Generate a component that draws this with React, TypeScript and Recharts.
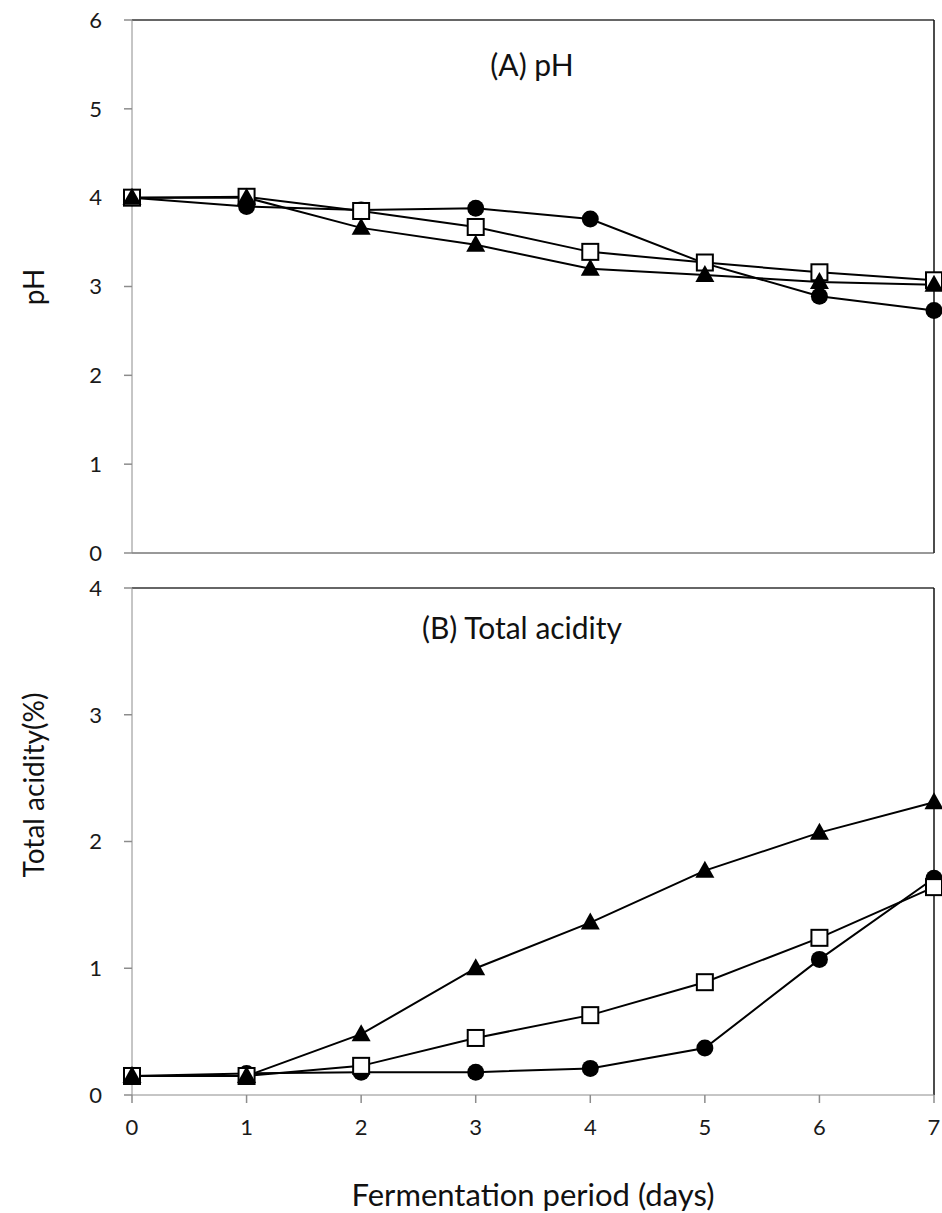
import React from 'react';
import { LineChart, Line, XAxis, YAxis, ReferenceLine } from 'recharts';

const DAYS = [0, 1, 2, 3, 4, 5, 6, 7];

// (A) pH
const PH_CIRCLE = [4.0, 3.9, 3.86, 3.88, 3.76, 3.26, 2.89, 2.73];
const PH_SQUARE = [4.0, 4.01, 3.85, 3.67, 3.39, 3.27, 3.16, 3.07];
const PH_TRIANGLE = [4.0, 4.0, 3.66, 3.47, 3.2, 3.13, 3.05, 3.02];

// (B) Total acidity (%)
const TA_CIRCLE = [0.15, 0.17, 0.18, 0.18, 0.21, 0.37, 1.07, 1.71];
const TA_SQUARE = [0.15, 0.15, 0.23, 0.45, 0.63, 0.89, 1.24, 1.64];
const TA_TRIANGLE = [0.15, 0.15, 0.48, 1.0, 1.36, 1.77, 2.07, 2.31];

const PH_TICKS = [0, 1, 2, 3, 4, 5, 6];
const TA_TICKS = [0, 1, 2, 3, 4];

const FONT = 'Lato, "Open Sans", sans-serif';
const AXIS_GRAY = '#8c8c8c';

const phData = DAYS.map((d, i) => ({
  day: d,
  circle: PH_CIRCLE[i],
  square: PH_SQUARE[i],
  triangle: PH_TRIANGLE[i],
}));

const taData = DAYS.map((d, i) => ({
  day: d,
  circle: TA_CIRCLE[i],
  square: TA_SQUARE[i],
  triangle: TA_TRIANGLE[i],
}));

const CircleDot = (p: any) => {
  if (p.cx == null || p.cy == null) return null;
  return <circle key={p.index} cx={p.cx} cy={p.cy} r={8.5} fill="#000" />;
};

const SquareDot = (p: any) => {
  if (p.cx == null || p.cy == null) return null;
  return (
    <rect
      key={p.index}
      x={p.cx - 8}
      y={p.cy - 8}
      width={16}
      height={16}
      fill="#fff"
      stroke="#000"
      strokeWidth={2}
    />
  );
};

const TriangleDot = (p: any) => {
  if (p.cx == null || p.cy == null) return null;
  const { cx, cy } = p;
  return (
    <path
      key={p.index}
      d={`M${cx},${cy - 10} L${cx + 9.5},${cy + 7} L${cx - 9.5},${cy + 7} Z`}
      fill="#000"
    />
  );
};

function renderLines() {
  return [
    <Line
      key="circle"
      dataKey="circle"
      stroke="#000"
      strokeWidth={2}
      dot={CircleDot}
      activeDot={false}
      isAnimationActive={false}
    />,
    <Line
      key="square"
      dataKey="square"
      stroke="#000"
      strokeWidth={2}
      dot={SquareDot}
      activeDot={false}
      isAnimationActive={false}
    />,
    <Line
      key="triangle"
      dataKey="triangle"
      stroke="#000"
      strokeWidth={2}
      dot={TriangleDot}
      activeDot={false}
      isAnimationActive={false}
    />,
  ];
}

const tickText = { fill: '#1a1a1a', fontSize: 22, fontFamily: FONT };

const titleStyle: React.CSSProperties = {
  position: 'absolute',
  transform: 'translate(-50%, -50%)',
  color: '#111',
  whiteSpace: 'nowrap',
  lineHeight: 1,
};

export default function App() {
  return (
    <div
      style={{
        position: 'absolute',
        left: 0,
        top: 0,
        width: 942,
        height: 1213,
        background: '#fff',
        overflow: 'hidden',
        fontFamily: FONT,
      }}
    >
      <div style={{ position: 'absolute', left: 0, top: 0 }}>
        <LineChart
          width={942}
          height={570}
          data={phData}
          margin={{ top: 20, right: 8, bottom: 0, left: 0 }}
        >
          <XAxis
            dataKey="day"
            type="number"
            domain={[0, 7]}
            ticks={DAYS}
            tick={false}
            tickLine={false}
            axisLine={{ stroke: '#333' }}
            height={17}
          />
          <YAxis
            type="number"
            domain={[0, 6]}
            ticks={PH_TICKS}
            width={132}
            tick={tickText}
            tickSize={8}
            tickMargin={22}
            tickLine={{ stroke: AXIS_GRAY, strokeWidth: 1.5 }}
            axisLine={{ stroke: AXIS_GRAY }}
          />
          <ReferenceLine y={6} stroke="#333" strokeWidth={1.5} />
          <ReferenceLine x={7} stroke="#111" strokeWidth={1.5} />
          {renderLines()}
        </LineChart>
      </div>

      <div style={{ position: 'absolute', left: 0, top: 560 }}>
        <LineChart
          width={942}
          height={653}
          data={taData}
          margin={{ top: 28, right: 8, bottom: 58, left: 0 }}
        >
          <XAxis
            dataKey="day"
            type="number"
            domain={[0, 7]}
            ticks={DAYS}
            tick={tickText}
            tickSize={8}
            tickMargin={16}
            tickLine={{ stroke: AXIS_GRAY, strokeWidth: 1.5 }}
            axisLine={{ stroke: AXIS_GRAY }}
            height={60}
          />
          <YAxis
            type="number"
            domain={[0, 4]}
            ticks={TA_TICKS}
            width={132}
            tick={tickText}
            tickSize={8}
            tickMargin={22}
            tickLine={{ stroke: AXIS_GRAY, strokeWidth: 1.5 }}
            axisLine={{ stroke: AXIS_GRAY }}
          />
          <ReferenceLine y={4} stroke="#333" strokeWidth={1.5} />
          <ReferenceLine x={7} stroke="#111" strokeWidth={1.5} />
          {renderLines()}
        </LineChart>
      </div>

      {/* panel titles */}
      <div style={{ ...titleStyle, left: 532, top: 64, fontSize: 30 }}>(A) pH</div>
      <div style={{ ...titleStyle, left: 522, top: 627, fontSize: 30 }}>(B) Total acidity</div>

      {/* axis titles */}
      <div style={{ ...titleStyle, left: 33, top: 287, fontSize: 28, transform: 'translate(-50%, -50%) rotate(-90deg)' }}>
        pH
      </div>
      <div style={{ ...titleStyle, left: 33, top: 785, fontSize: 28, transform: 'translate(-50%, -50%) rotate(-90deg)' }}>
        Total acidity(%)
      </div>
      <div style={{ ...titleStyle, left: 533, top: 1194, fontSize: 31 }}>Fermentation period (days)</div>
    </div>
  );
}
